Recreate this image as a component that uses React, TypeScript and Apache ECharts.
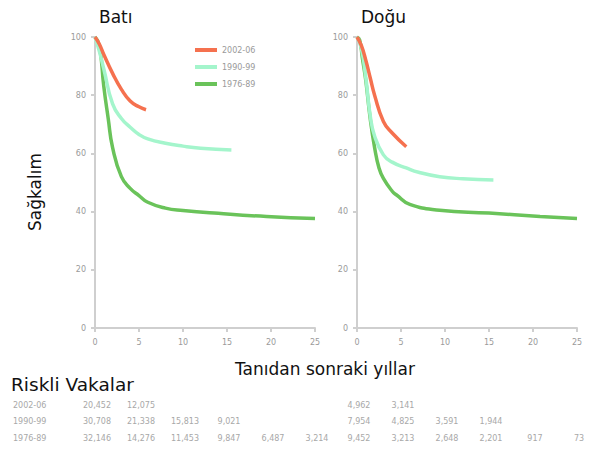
import React, { useEffect, useRef } from "react";
import * as echarts from "echarts";

const groupNames = ["2002-06", "1990-99", "1976-89"];
const groupColors = ["#f5714f", "#a4f5cc", "#6ac35a"];

// Batı (West)
const westRecentYears = [0, 0.5, 1, 2, 3, 4, 5, 5.8];
const westRecentSurv = [100, 97.5, 94, 87.5, 82, 78, 76, 75];
const westMiddleYears = [0, 0.5, 1, 2, 3, 4, 5, 6, 8, 10, 12, 15.5];
const westMiddleSurv = [100, 95, 89, 77, 72, 69, 66.5, 65, 63.5, 62.5, 61.8, 61.2];
const westOldYears = [0, 0.5, 1, 1.5, 2, 3, 4, 5, 6, 8, 10, 14, 19.5, 25];
const westOldSurv = [100, 97, 83, 72, 62, 52, 48, 45.5, 43.2, 41.2, 40.4, 39.4, 38.3, 37.6];

// Doğu (East)
const eastRecentYears = [0, 0.5, 1, 1.5, 2, 3, 4, 5.6];
const eastRecentSurv = [100, 97, 92, 86, 80, 71, 67, 62.3];
const eastMiddleYears = [0, 0.5, 1, 1.5, 2, 3, 4, 5.6, 7, 9.4, 12, 15.5];
const eastMiddleSurv = [100, 96, 86, 73, 66, 59.5, 57, 55, 53.5, 52, 51.3, 50.9];
const eastOldYears = [0, 0.3, 0.6, 1, 1.5, 2, 2.5, 3, 4, 4.5, 6, 9.4, 15, 20.8, 25];
const eastOldSurv = [100, 99, 93, 85, 72, 62, 55, 51.4, 47, 45.7, 42.5, 40.5, 39.5, 38.3, 37.6];

// Risk table (numbers at risk at 0, 5, 10, 15, 20, 25 years)
const riskYears = [0, 5, 10, 15, 20, 25];
const westRiskRecent = ["20,452", "12,075"];
const westRiskMiddle = ["30,708", "21,338", "15,813", "9,021"];
const westRiskOld = ["32,146", "14,276", "11,453", "9,847", "6,487", "3,214"];
const eastRiskRecent = ["4,962", "3,141"];
const eastRiskMiddle = ["7,954", "4,825", "3,591", "1,944"];
const eastRiskOld = ["9,452", "3,213", "2,648", "2,201", "917", "73"];

const zip = (xs: number[], ys: number[]) => xs.map((x, i) => [x, ys[i]]);

const PANEL_W = 220;
const PANEL_H = 291;
const TOP = 37;
const LEFTS = [95, 357];

export default function App() {
  const ref = useRef<HTMLDivElement>(null);

  useEffect(() => {
    if (!ref.current) return;
    document.body.style.margin = "0";
    const chart = echarts.init(ref.current, null, { renderer: "svg" });
    const font = "DejaVu Sans";
    const tickColor = "#9a9a9a";
    const axisColor = "#cfcfcf";

    const mkX = (gi: number) => ({
      type: "value",
      gridIndex: gi,
      min: 0,
      max: 25,
      interval: 5,
      axisLine: { show: true, lineStyle: { color: axisColor, width: 2 } },
      axisTick: { show: true, length: 4, lineStyle: { color: axisColor, width: 2 } },
      axisLabel: { fontSize: 8, color: tickColor, margin: 10, fontFamily: font },
      splitLine: { show: false },
    });
    const mkY = (gi: number) => ({
      type: "value",
      gridIndex: gi,
      min: 0,
      max: 100,
      interval: 20,
      axisLine: { show: true, lineStyle: { color: axisColor, width: 2 } },
      axisTick: { show: true, length: 4, lineStyle: { color: axisColor, width: 2 } },
      axisLabel: { fontSize: 8, color: tickColor, margin: 9, fontFamily: font },
      splitLine: { show: false },
    });

    const panels = [
      [zip(westOldYears, westOldSurv), zip(westMiddleYears, westMiddleSurv), zip(westRecentYears, westRecentSurv)],
      [zip(eastOldYears, eastOldSurv), zip(eastMiddleYears, eastMiddleSurv), zip(eastRecentYears, eastRecentSurv)],
    ];
    const order = [2, 1, 0];
    const series: any[] = [];
    panels.forEach((p, gi) => {
      p.forEach((data, k) => {
        const g = order[k];
        series.push({
          type: "line",
          name: groupNames[g],
          xAxisIndex: gi,
          yAxisIndex: gi,
          data,
          showSymbol: false,
          smooth: 0.5,
          lineStyle: { color: groupColors[g], width: 3.5 },
          itemStyle: { color: groupColors[g] },
        });
      });
    });

    const riskRows = [
      [westRiskRecent, eastRiskRecent],
      [westRiskMiddle, eastRiskMiddle],
      [westRiskOld, eastRiskOld],
    ];
    const rowY = [405, 421, 438];
    const big = 17;
    const graphics: any[] = [
      { type: "text", left: 99, top: 8, style: { text: "Batı", fontSize: big, fontFamily: font, fill: "#111" } },
      { type: "text", left: 361, top: 8, style: { text: "Doğu", fontSize: big, fontFamily: font, fill: "#111" } },
      {
        type: "text",
        x: 35,
        y: 192,
        rotation: Math.PI / 2,
        style: { text: "Sağkalım", fontSize: big, fontFamily: font, fill: "#111", align: "center", verticalAlign: "middle" },
      },
      {
        type: "text",
        x: 325,
        y: 369,
        style: { text: "Tanıdan sonraki yıllar", fontSize: big, fontFamily: font, fill: "#111", align: "center", verticalAlign: "middle" },
      },
      {
        type: "text",
        x: 11,
        y: 384,
        style: { text: "Riskli Vakalar", fontSize: 18.5, fontFamily: font, fill: "#111", align: "left", verticalAlign: "middle" },
      },
    ];
    riskRows.forEach((row, r) => {
      graphics.push({
        type: "text",
        x: 13,
        y: rowY[r],
        style: { text: groupNames[r], fontSize: 8, fontFamily: font, fill: "#a8a8a8", align: "left", verticalAlign: "middle" },
      });
      row.forEach((vals, pi) => {
        vals.forEach((v, j) => {
          const px = LEFTS[pi] + (riskYears[j] / 25) * PANEL_W;
          graphics.push({
            type: "text",
            x: Math.min(px + 2, 588),
            y: rowY[r],
            style: { text: v, fontSize: 8, fontFamily: font, fill: "#a8a8a8", align: "center", verticalAlign: "middle" },
          });
        });
      });
    });

    chart.setOption({
      animation: false,
      backgroundColor: "#ffffff",
      grid: LEFTS.map((l) => ({ left: l, top: TOP, width: PANEL_W, height: PANEL_H, containLabel: false })),
      xAxis: [mkX(0), mkX(1)],
      yAxis: [mkY(0), mkY(1)],
      legend: {
        data: groupNames,
        orient: "vertical",
        left: 195,
        top: 45,
        padding: 0,
        itemGap: 7,
        itemWidth: 22,
        itemHeight: 4,
        icon: "rect",
        textStyle: { fontSize: 8, color: "#9a9a9a", fontFamily: font, lineHeight: 10 },
      },
      series,
      graphic: graphics,
    });
    return () => chart.dispose();
  }, []);

  return <div ref={ref} style={{ width: 596, height: 451 }} />;
}
